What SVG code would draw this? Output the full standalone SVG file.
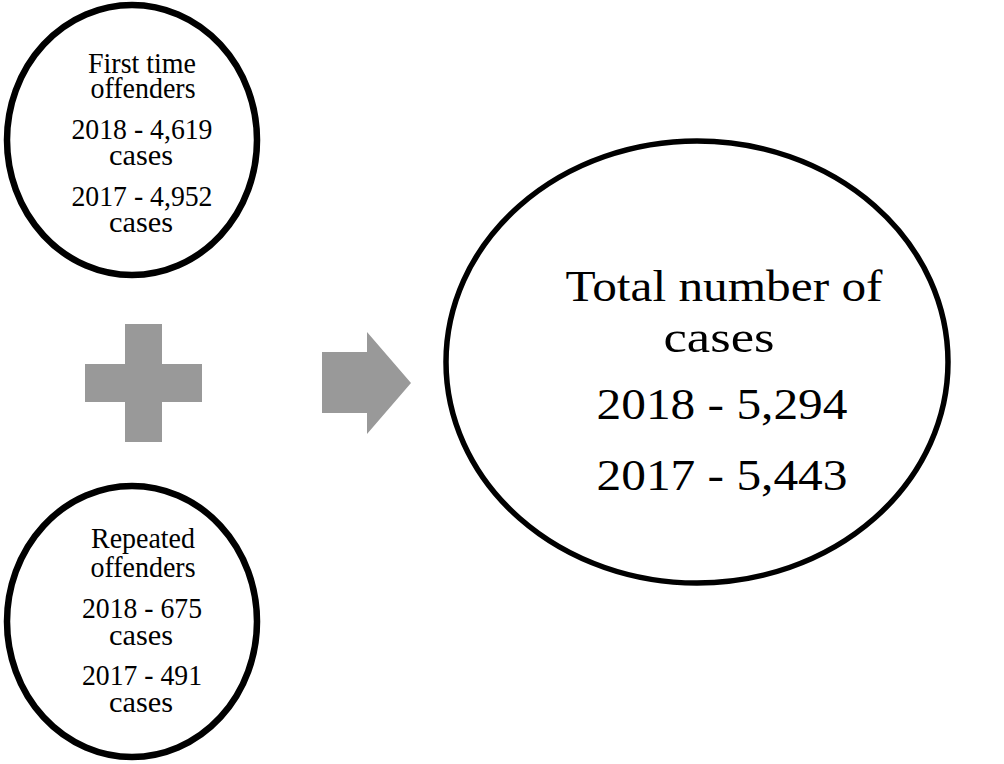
<svg xmlns="http://www.w3.org/2000/svg" width="1004" height="764" viewBox="0 0 1004 764">
<style>
.node{fill:#ffffff;stroke:#000000}
.small{stroke-width:6.5}
.big{stroke-width:5.5}
.t{font-family:"Liberation Serif","Times New Roman",serif;fill:#000000;text-anchor:middle}
.ts{font-size:30px}
.tb{font-size:45px}
.sym{fill:#999999}
</style>
<rect width="1004" height="764" fill="#ffffff"/>
<g id="first-time">
<ellipse class="node small" cx="132" cy="140" rx="125" ry="135"/>
<text class="t ts" x="142" y="73" textLength="108" lengthAdjust="spacingAndGlyphs">First time</text>
<text class="t ts" x="143" y="98" textLength="105" lengthAdjust="spacingAndGlyphs">offenders</text>
<text class="t ts" x="142" y="139" textLength="141" lengthAdjust="spacingAndGlyphs">2018 - 4,619</text>
<text class="t ts" x="141" y="165" textLength="64" lengthAdjust="spacingAndGlyphs">cases</text>
<text class="t ts" x="142" y="206" textLength="141" lengthAdjust="spacingAndGlyphs">2017 - 4,952</text>
<text class="t ts" x="141" y="232" textLength="64" lengthAdjust="spacingAndGlyphs">cases</text>
</g>
<g id="repeated">
<ellipse class="node small" cx="132" cy="621.5" rx="125" ry="135.5"/>
<text class="t ts" x="143" y="548" textLength="104" lengthAdjust="spacingAndGlyphs">Repeated</text>
<text class="t ts" x="143" y="577" textLength="105" lengthAdjust="spacingAndGlyphs">offenders</text>
<text class="t ts" x="142" y="618" textLength="120" lengthAdjust="spacingAndGlyphs">2018 - 675</text>
<text class="t ts" x="141" y="645" textLength="64" lengthAdjust="spacingAndGlyphs">cases</text>
<text class="t ts" x="142" y="685" textLength="120" lengthAdjust="spacingAndGlyphs">2017 - 491</text>
<text class="t ts" x="141" y="712" textLength="64" lengthAdjust="spacingAndGlyphs">cases</text>
</g>
<g id="total">
<ellipse class="node big" cx="697" cy="362" rx="251" ry="221"/>
<text class="t tb" x="724" y="301" textLength="317" lengthAdjust="spacingAndGlyphs">Total number of</text>
<text class="t tb" x="719" y="352" textLength="111" lengthAdjust="spacingAndGlyphs">cases</text>
<text class="t tb" x="722" y="419" textLength="251" lengthAdjust="spacingAndGlyphs">2018 - 5,294</text>
<text class="t tb" x="722" y="490" textLength="251" lengthAdjust="spacingAndGlyphs">2017 - 5,443</text>
</g>
<g id="connectors">
<path id="plus" class="sym" d="M125,324H162V364H202V402H162V442H125V402H85V364H125Z"/>
<path id="arrow" class="sym" d="M322,352H367V332L411,383L367,434V413H322Z"/>
</g>
</svg>
